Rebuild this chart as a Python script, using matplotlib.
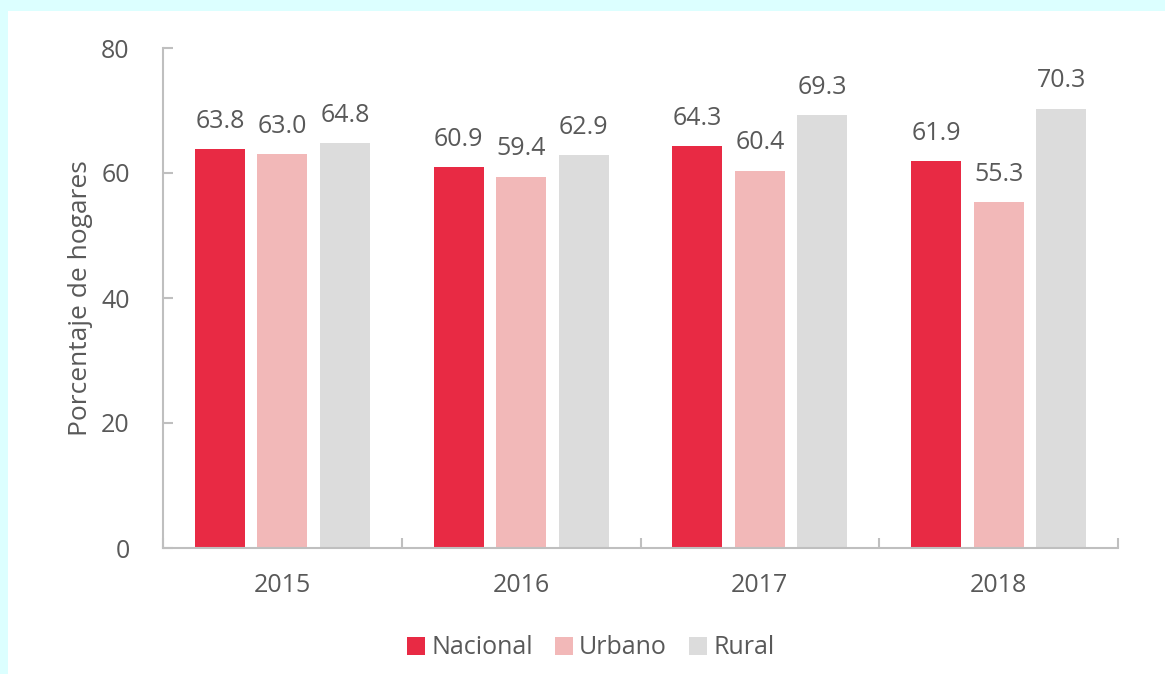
import matplotlib.pyplot as plt
import numpy as np
from matplotlib.patches import Rectangle

years = ['2015', '2016', '2017', '2018']
nacional = [63.8, 60.9, 64.3, 61.9]
urbano = [63.0, 59.4, 60.4, 55.3]
rural = [64.8, 62.9, 69.3, 70.3]

series = [('Nacional', nacional, '#E82A44'),
          ('Urbano', urbano, '#F2B8B8'),
          ('Rural', rural, '#DCDCDC')]

plt.rcParams['font.family'] = ['Open Sans', 'DejaVu Sans']
grey = '#595959'
fs = 18

fig = plt.figure(figsize=(11.65, 6.74), dpi=100)
fig.patch.set_facecolor('#DCFFFF')
# white panel inside the cyan frame
fig.patches.append(Rectangle((8 / 1165, 0), 1, 1 - 11 / 674, transform=fig.transFigure,
                             facecolor='white', edgecolor='none', zorder=-10))

ax = fig.add_axes([163 / 1165, 1 - 548 / 674, 955 / 1165, 500 / 674])
ax.set_facecolor('none')

x = np.arange(len(years))
width = 0.21
step = 0.262
for i, (name, vals, col) in enumerate(series):
    pos = x + (i - 1) * step
    bars = ax.bar(pos, vals, width, color=col, label=name, zorder=2)
    for b, v in zip(bars, vals):
        ax.annotate(f'{v:.1f}', (b.get_x() + b.get_width() / 2, v),
                    xytext=(0, 11), textcoords='offset points',
                    ha='center', va='bottom', fontsize=fs, color=grey)

ax.set_xlim(-0.5, 3.5)
ax.set_ylim(0, 80)
ax.set_yticks([0, 20, 40, 60, 80])
ax.set_xticks(x)
ax.set_xticklabels(years)
ax.set_xticks(np.arange(-0.5, 4, 1), minor=True)

for s in ['top', 'right']:
    ax.spines[s].set_visible(False)
for s in ['left', 'bottom']:
    ax.spines[s].set_color('#BFBFBF')
    ax.spines[s].set_linewidth(1.5)

ax.tick_params(axis='y', direction='in', length=7, width=1.5, color='#BFBFBF',
               labelsize=fs, labelcolor=grey, pad=24)
ax.tick_params(axis='x', which='major', length=0, labelsize=fs, labelcolor=grey, pad=18)
ax.tick_params(axis='x', which='minor', direction='in', length=7, width=1.5, color='#BFBFBF')

ax.set_ylabel('Porcentaje de hogares', fontsize=19, color=grey, labelpad=6)

ax.legend(loc='upper center', bbox_to_anchor=(0.448, -0.13), ncol=3, frameon=False,
          fontsize=fs, labelcolor=grey, handlelength=0.7, handleheight=0.7,
          handletextpad=0.25, columnspacing=0.9)

fig.savefig('out.png', dpi=100, facecolor=fig.get_facecolor())
